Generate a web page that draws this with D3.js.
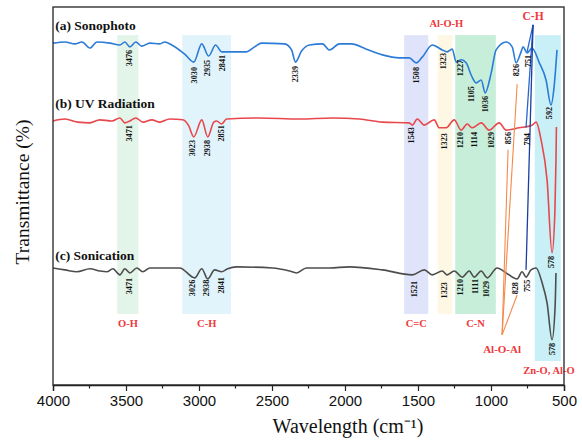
<!DOCTYPE html>
<html>
<head>
<meta charset="utf-8">
<script src="https://cdn.jsdelivr.net/npm/d3@7"></script>
<style>
  body { margin: 0; background: #fff; }
</style>
</head>
<body>
<div id="chart"></div>
<script>
// FTIR spectra, wavenumber (cm-1) vs relative transmittance (stacked)
var sonophotoWave = [4000,3918,3850,3802,3747,3699,3610,3542,3508,3474,3433,3392,3337,3269,3234,3187,3098,3036,2981,2934,2886,2845,2790,2674,2619,2571,2414,2366,2339,2298,2243,2154,2106,2038,1956,1853,1744,1628,1560,1512,1471,1402,1334,1300,1266,1238,1204,1170,1136,1101,1067,1040,999,965,896,855,828,794,780,753,719,671,623,589,568,548];
var sonophotoT = [90.5,90.8,90.3,90.8,89.2,90.8,90.5,90.0,90.8,89.5,90.8,89.7,90.5,90.3,90.8,90.0,87.6,85.5,90.3,87.1,90.0,88.2,88.2,88.2,89.5,90.5,90.3,88.7,85.5,88.4,90.0,90.3,88.7,90.3,90.3,88.9,87.4,86.6,86.6,85.3,86.8,90.0,88.7,88.2,88.9,85.5,86.1,85.3,82.1,80.0,80.8,77.4,82.6,88.7,90.8,89.5,85.3,88.2,89.5,87.9,89.2,85.5,80.8,74.2,78.9,88.7];

var uvWave = [4000,3918,3829,3747,3679,3597,3542,3508,3474,3433,3385,3323,3269,3200,3111,3070,3036,2981,2940,2899,2879,2845,2811,2585,2312,2086,1901,1744,1560,1539,1505,1457,1389,1354,1307,1252,1204,1163,1129,1067,1013,944,896,808,719,691,657,616,582,562,555,552];
var uvT = [70.0,70.5,69.7,69.5,70.3,70.0,70.8,69.5,70.0,70.8,69.7,70.3,69.7,70.5,70.3,68.7,65.8,70.3,65.8,69.7,70.0,69.2,70.5,70.8,70.5,70.8,70.5,69.7,69.5,68.9,70.5,68.9,70.3,68.2,68.2,70.3,67.6,69.2,68.2,69.5,67.6,69.5,67.6,68.2,68.9,69.7,65.0,54.5,35.3,46.6,59.7,68.4];

var sonicWave = [4000,3918,3836,3747,3679,3631,3590,3542,3508,3474,3426,3385,3337,3234,3132,3029,2981,2940,2893,2845,2804,2742,2496,2380,2332,2264,2106,1970,1744,1539,1457,1402,1334,1300,1252,1197,1149,1115,1067,1026,958,896,821,787,760,726,691,650,616,582,561,555];
var sonicT = [31.3,30.8,30.3,31.1,30.5,30.3,31.1,29.5,31.1,30.0,31.3,30.3,31.3,31.3,31.3,28.7,31.1,28.4,30.8,30.3,31.1,31.6,31.3,30.5,30.0,31.3,31.3,31.6,30.8,29.5,30.8,29.5,30.5,29.5,30.5,28.9,30.5,28.9,30.5,28.7,31.3,30.0,28.4,30.3,28.9,30.8,31.3,27.4,22.1,12.4,21.1,30.0];

// series names
var seriesNames = ["(a) Sonophoto", "(b) UV Radiation", "(c) Sonication"];
var seriesNameT = [94, 73.4, 33.4];

// peak labels: text, where it sits (cm-1), top of label (T)
var sonophotoPeaks = ["3476","3030","2935","2841","2339","1508","1323","1227","1105","1036","826","751","592"];
var sonophotoPeakAt = [3476,3030,2945,2841,2339,1508,1323,1210,1136,1040,828,746,596];
var sonophotoPeakTop = [88.7,84.2,86.1,87.4,84.5,84.2,87.9,86.1,79.2,76.6,85.0,87.4,73.7];

var uvPeaks = ["3471","3023","2938","2851","1543","1323","1210","1114","1029","856","794","578"];
var uvPeakAt = [3474,3043,2940,2845,1546,1320,1211,1115,999,883,753,589];
var uvPeakTop = [68.9,65.0,65.0,68.9,68.4,66.8,67.1,67.1,67.1,67.1,66.8,34.5];

var sonicPeaks = ["3471","3026","2938","2841","1521","1323","1210","1111","1029","828","755","578"];
var sonicPeakAt = [3474,3043,2947,2845,1525,1320,1211,1108,1033,835,753,582];
var sonicPeakTop = [28.7,28.2,28.2,28.9,27.9,27.6,28.4,28.4,27.9,27.6,28.2,11.6];

// shaded bands of functional groups
var bandNames = ["O-H","C-H","C=C","Al-O-H","C-N","Zn-O, Al-O"];
var bandFrom = [3560,3115,1595,1365,1245,700];
var bandTo = [3415,2780,1430,1265,967,522];
var bandBottom = [19.2,19.2,19.2,19.2,19.2,6.8];
var bandLabelAt = [3487,2947,1512,1306,1106,603];
var bandLabelT = [16.6,16.6,16.6,95.6,16.6,4.4];
var bandColors = ["#e3f4e9","#e2f4fb","#e0e4fa","#fdf7e4","#c7eed9","#c9f0f6"];

// pointer lines: label, apex, ends
var chApex = [712, 95.3];
var chEnds = [[753, 88.2], [760, 68.2], [760, 30.8]];
var aloalApex = [924, 13.7];
var aloalEnds = [[821, 79.7], [883, 62.4], [821, 24.2]];

var xTicks = [4000,3500,3000,2500,2000,1500,1000,500];
var xMinor = [3750,3250,2750,2250,1750,1250,750];

var margin = {top: 7, right: 18, bottom: 56, left: 53};
var width = 582 - margin.left - margin.right;
var height = 441 - margin.top - margin.bottom;

var svg = d3.select("#chart")
    .append("svg")
    .attr("width", 582)
    .attr("height", 441)
  .append("g")
    .attr("transform", "translate(" + margin.left + "," + margin.top + ")");

var x = d3.scaleLinear().domain([4000, 500]).range([0, width]);
var y = d3.scaleLinear().domain([0.5, 100]).range([height, 0]);

// bands
svg.append("g").selectAll("rect")
    .data(bandNames)
    .enter()
    .append("rect")
    .attr("x", function(d, i) { return x(bandFrom[i]); })
    .attr("width", function(d, i) { return x(bandTo[i]) - x(bandFrom[i]); })
    .attr("y", y(92.6))
    .attr("height", function(d, i) { return y(bandBottom[i]) - y(92.6); })
    .attr("fill", function(d, i) { return bandColors[i]; });

svg.append("g").selectAll("text")
    .data(bandNames)
    .enter()
    .append("text")
    .attr("x", function(d, i) { return x(bandLabelAt[i]); })
    .attr("y", function(d, i) { return y(bandLabelT[i]); })
    .attr("text-anchor", "middle")
    .attr("dominant-baseline", "central")
    .style("font", "bold 10.5px 'Liberation Serif'")
    .style("fill", "#f0383c")
    .text(function(d) { return d; });

// spectra
var line = d3.line()
    .x(function(d) { return x(d[0]); })
    .y(function(d) { return y(d[1]); })
    .curve(d3.curveMonotoneX);

var spectra = [
  {wave: sonophotoWave, t: sonophotoT, color: "#2b7bd8"},
  {wave: uvWave, t: uvT, color: "#e8474c"},
  {wave: sonicWave, t: sonicT, color: "#4d4d4d"}
];

spectra.forEach(function(s) {
  var pts = s.wave.map(function(w, i) { return [w, s.t[i]]; });
  svg.append("path")
      .datum(pts)
      .attr("d", line)
      .attr("fill", "none")
      .attr("stroke", s.color)
      .attr("stroke-width", 1.6);
});

// pointer lines
function drawPointers(apex, ends, color, width) {
  svg.append("g").selectAll("line")
      .data(ends)
      .enter()
      .append("line")
      .attr("x1", x(apex[0]))
      .attr("y1", y(apex[1]))
      .attr("x2", function(d) { return x(d[0]); })
      .attr("y2", function(d) { return y(d[1]); })
      .attr("stroke", function(d, i) { return (color == "#2a66cc" && i == 2) ? "#1a3f9e" : color; })
      .attr("stroke-width", width);
}
drawPointers(chApex, chEnds, "#2a66cc", 1.3);
drawPointers(aloalApex, aloalEnds, "#f58a4a", 1.1);

svg.append("text")
    .attr("x", x(chApex[0]))
    .attr("y", y(chApex[1]) - 5)
    .attr("text-anchor", "middle")
    .style("font", "bold 11.5px 'Liberation Serif'")
    .style("fill", "#f0383c")
    .text("C-H");

svg.append("text")
    .attr("x", x(aloalApex[0]))
    .attr("y", y(aloalApex[1]) + 18)
    .attr("text-anchor", "middle")
    .style("font", "bold 11px 'Liberation Serif'")
    .style("fill", "#f0383c")
    .text("Al-O-Al");

// peak labels
function drawPeaks(labels, at, top) {
  svg.append("g").selectAll("text")
      .data(labels)
      .enter()
      .append("text")
      .attr("transform", function(d, i) {
        return "translate(" + x(at[i]) + "," + y(top[i]) + ") rotate(-90)";
      })
      .attr("text-anchor", "end")
      .attr("dominant-baseline", "central")
      .style("font", "bold 8.2px 'Liberation Serif'")
      .style("fill", "#111")
      .text(function(d) { return d; });
}
drawPeaks(sonophotoPeaks, sonophotoPeakAt, sonophotoPeakTop);
drawPeaks(uvPeaks, uvPeakAt, uvPeakTop);
drawPeaks(sonicPeaks, sonicPeakAt, sonicPeakTop);

// series names
svg.append("g").selectAll("text")
    .data(seriesNames)
    .enter()
    .append("text")
    .attr("x", x(3985))
    .attr("y", function(d, i) { return y(seriesNameT[i]); })
    .style("font", "bold 13.5px 'Liberation Serif'")
    .style("fill", "#111")
    .text(function(d) { return d; });

// frame
svg.append("rect")
    .attr("width", width)
    .attr("height", height)
    .attr("fill", "none")
    .attr("stroke", "#333")
    .attr("stroke-width", 1.4);

// x axis
var xAxis = svg.append("g")
    .attr("transform", "translate(0," + height + ")")
    .call(d3.axisBottom(x).tickValues(xTicks).tickSize(6).tickPadding(4).tickFormat(d3.format("d")));
xAxis.select(".domain").attr("stroke", "#222").attr("stroke-width", 1.4);
xAxis.selectAll(".tick line").attr("stroke", "#222").attr("stroke-width", 1.2);
xAxis.selectAll("text").style("font", "15px 'Liberation Sans'").style("fill", "#111");

svg.append("g")
    .attr("transform", "translate(0," + height + ")")
    .selectAll("line")
    .data(xMinor)
    .enter()
    .append("line")
    .attr("x1", function(d) { return x(d); })
    .attr("x2", function(d) { return x(d); })
    .attr("y1", 0)
    .attr("y2", 3.5)
    .attr("stroke", "#222")
    .attr("stroke-width", 1.2);

svg.append("text")
    .attr("x", 295)
    .attr("y", height + 48)
    .attr("text-anchor", "middle")
    .style("font", "20px 'Liberation Serif'")
    .style("fill", "#111")
    .text("Wavelength (cm\u207B\u00B9)");

svg.append("text")
    .attr("transform", "translate(" + (-31) + "," + (height / 2 - 4) + ") rotate(-90)")
    .attr("text-anchor", "middle")
    .attr("dominant-baseline", "central")
    .style("font", "19.5px 'Liberation Serif'")
    .style("fill", "#111")
    .text("Transmittance (%)");
</script>
</body>
</html>
